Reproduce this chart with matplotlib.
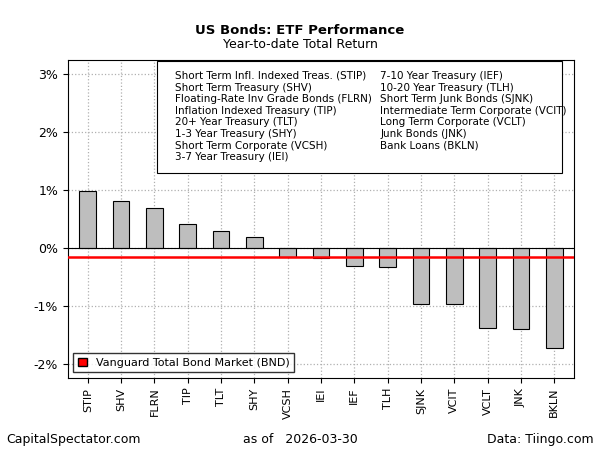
import numpy as np
import matplotlib.pyplot as plt

tickers = ["STIP", "SHV", "FLRN", "TIP", "TLT", "SHY", "VCSH", "IEI", "IEF", "TLH",
           "SJNK", "VCIT", "VCLT", "JNK", "BKLN"]
returns = [0.98, 0.81, 0.69, 0.41, 0.29, 0.19, -0.15, -0.17, -0.31, -0.33,
           -0.97, -0.97, -1.38, -1.41, -1.74]
bnd = -0.15
names_left = ["Short Term Infl. Indexed Treas. (STIP)", "Short Term Treasury (SHV)",
              "Floating-Rate Inv Grade Bonds (FLRN)", "Inflation Indexed Treasury (TIP)",
              "20+ Year Treasury (TLT)", "1-3 Year Treasury (SHY)",
              "Short Term Corporate (VCSH)", "3-7 Year Treasury (IEI)"]
names_right = ["7-10 Year Treasury (IEF)", "10-20 Year Treasury (TLH)",
               "Short Term Junk Bonds (SJNK)", "Intermediate Term Corporate (VCIT)",
               "Long Term Corporate (VCLT)", "Junk Bonds (JNK)", "Bank Loans (BKLN)"]

fig = plt.figure(figsize=(6, 4.5), dpi=100)
ax = fig.add_axes([0.113, 0.16, 0.844, 0.707])
x = np.arange(len(tickers))
ax.bar(x, returns, width=0.5, color="#bebebe", edgecolor="black", linewidth=0.8, zorder=3)
ax.axhline(0, color="black", linewidth=0.8, zorder=4)
ax.axhline(bnd, color="red", linewidth=1.8, zorder=5)
ax.set_xlim(-0.6, len(tickers) - 0.4)
ax.set_ylim(-2.25, 3.25)
ax.set_yticks([-2, -1, 0, 1, 2, 3])
ax.set_yticklabels(["-2%", "-1%", "0%", "1%", "2%", "3%"], fontsize=9)
ax.set_xticks(x)
ax.set_xticklabels(tickers, rotation=90, fontsize=8)
ax.grid(True, color="#b0b0b0", linestyle=":", linewidth=0.9, zorder=0)

# legend box with fund names
ax.add_patch(plt.Rectangle((0.176, 0.644), 0.8, 0.351, transform=ax.transAxes,
                           facecolor="white", edgecolor="black", linewidth=0.8, zorder=5))
ax.text(0.212, 0.965, "\n".join(names_left), transform=ax.transAxes, fontsize=7.5,
        va="top", linespacing=1.2, zorder=6)
ax.text(0.617, 0.965, "\n".join(names_right), transform=ax.transAxes, fontsize=7.5,
        va="top", linespacing=1.2, zorder=6)

leg = ax.legend(handles=[plt.Rectangle((0, 0), 1, 1, facecolor="red", edgecolor="black")],
                labels=["Vanguard Total Bond Market (BND)"], loc="lower left",
                fontsize=8, fancybox=False, edgecolor="black", handlelength=0.8,
                handleheight=0.8)
leg.set_zorder(8)

fig.text(0.5, 0.925, "US Bonds: ETF Performance", ha="center", fontsize=9.5, weight="bold")
fig.text(0.5, 0.893, "Year-to-date Total Return", ha="center", fontsize=9)
fig.text(0.01, 0.015, "CapitalSpectator.com", fontsize=9)
fig.text(0.5, 0.015, "as of   2026-03-30", ha="center", fontsize=9)
fig.text(0.99, 0.015, "Data: Tiingo.com", ha="right", fontsize=9)
fig.savefig("out.png")
